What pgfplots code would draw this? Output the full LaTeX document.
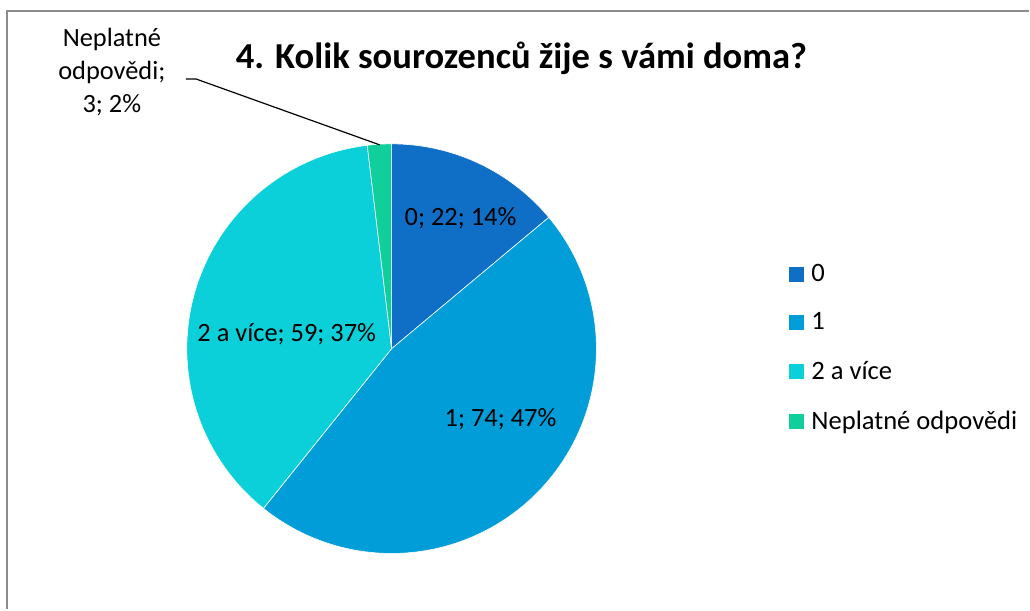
\documentclass[border=0pt]{standalone}
\usepackage{pgfplots}
\pgfplotsset{compat=1.18}
\usepackage{fontspec}
\setmainfont{Carlito}
\definecolor{cA}{HTML}{0F6FC6}
\definecolor{cB}{HTML}{009DD9}
\definecolor{cC}{HTML}{0BD0D9}
\definecolor{cD}{HTML}{10CF9B}
\definecolor{frame}{HTML}{8C8C8C}
% data: counts per category
\def\vA{22}\def\vB{74}\def\vC{59}\def\vD{3}
\pgfmathsetmacro{\tot}{\vA+\vB+\vC+\vD}
\pgfmathsetmacro{\aA}{90}
\pgfmathsetmacro{\aB}{\aA-360/\tot*\vA}
\pgfmathsetmacro{\aC}{\aB-360/\tot*\vB}
\pgfmathsetmacro{\aD}{\aC-360/\tot*\vC}
\pgfmathsetmacro{\aE}{\aD-360/\tot*\vD}
\def\cx{392}\def\cy{261}\def\rr{205}
\begin{document}
\begin{tikzpicture}
\begin{axis}[
  width=515pt, height=305pt, scale only axis,
  xmin=0, xmax=1030, ymin=0, ymax=610,
  hide axis, clip=false,
  legend cell align=left,
  legend style={draw=none, fill=none, at={(axis cs:789,350)}, anchor=north west,
    font=\fontsize{13.3}{15}\selectfont, row sep=10.2pt, inner sep=0pt,
    nodes={inner xsep=4pt}},
  legend image code/.code={\fill[#1] (0pt,-3.5pt) rectangle (7pt,3.5pt);},
]
\path (axis cs:0,0) rectangle (axis cs:1030,610);
\draw[frame, line width=1pt] (axis cs:7,0) -- (axis cs:7,598.5) -- (axis cs:1030,598.5);
\addplot[fill=cA, draw=white, line width=0.3pt, domain=\aB:\aA, samples=60, forget plot]
  ({\cx+\rr*cos(x)},{\cy+\rr*sin(x)}) -- (axis cs:\cx,\cy) -- cycle;
\addplot[fill=cB, draw=white, line width=0.3pt, domain=\aC:\aB, samples=120, forget plot]
  ({\cx+\rr*cos(x)},{\cy+\rr*sin(x)}) -- (axis cs:\cx,\cy) -- cycle;
\addplot[fill=cC, draw=white, line width=0.3pt, domain=\aD:\aC, samples=100, forget plot]
  ({\cx+\rr*cos(x)},{\cy+\rr*sin(x)}) -- (axis cs:\cx,\cy) -- cycle;
\addplot[fill=cD, draw=white, line width=0.3pt, domain=\aE:\aD, samples=10, forget plot]
  ({\cx+\rr*cos(x)},{\cy+\rr*sin(x)}) -- (axis cs:\cx,\cy) -- cycle;
\addlegendimage{cA}\addlegendentry{0}
\addlegendimage{cB}\addlegendentry{1}
\addlegendimage{cC}\addlegendentry{2 a více}
\addlegendimage{cD}\addlegendentry{Neplatné odpovědi}
\node[font=\fontsize{18.3}{22}\selectfont\bfseries] at (axis cs:522,552) {4. Kolik sourozenců žije s vámi doma?};
\node[font=\fontsize{13.2}{16.5}\selectfont] at (axis cs:461,392) {0; 22; 14\%};
\node[font=\fontsize{13.2}{16.5}\selectfont] at (axis cs:501,190) {1; 74; 47\%};
\node[font=\fontsize{13.2}{16.5}\selectfont] at (axis cs:287,275) {2 a více; 59; 37\%};
\node[font=\fontsize{13.2}{16.5}\selectfont, align=center] at (axis cs:112,538) {Neplatné\\odpovědi;\\3; 2\%};
\draw[black, line width=0.6pt] (axis cs:186,531) -- (axis cs:196,531) -- (axis cs:380,465);
\end{axis}
\end{tikzpicture}
\end{document}
